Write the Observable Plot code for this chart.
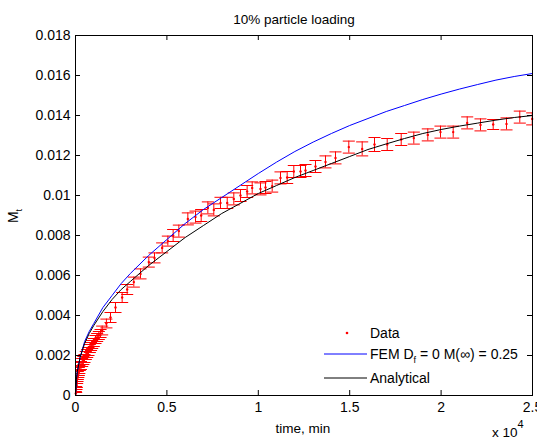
<!DOCTYPE html>
<html><head><meta charset="utf-8">
<script src="https://cdn.jsdelivr.net/npm/d3@7"></script>
<script src="https://cdn.jsdelivr.net/npm/@observablehq/plot@0.6"></script>
<style>
body{margin:0;background:#fff}
#wrap{position:relative;width:537px;height:439px;font-family:"Liberation Sans",Arial,sans-serif}
#wrap svg{position:absolute;left:0;top:0}
</style>
</head><body><div id="wrap"></div>
<script>
// ---- data ----
const title = "10% particle loading";
const xLabel = "time, min";
const xTicks = [0, 5000, 10000, 15000, 20000, 25000];
const xTickLabels = ["0", "0.5", "1", "1.5", "2", "2.5"];
const yTicks = [0, 0.002, 0.004, 0.006, 0.008, 0.01, 0.012, 0.014, 0.016, 0.018];
const yTickLabels = ["0", "0.002", "0.004", "0.006", "0.008", "0.01", "0.012", "0.014", "0.016", "0.018"];
const legendLabels = ["Data", "FEM D", "Analytical"];

const dataT = [18,36,55,75,91,110,128,155,182,210,237,300,365,430,492,565,638,710,785,850,912,1000,1094,1185,1277,1370,1459,1690,1915,2188,2553,2827,3190,3556,4010,4322,4741,5052,5342,5653,6145,6565,6875,7240,7567,7932,8300,8660,9026,9390,9666,10120,10394,10760,11214,11580,11942,12309,12582,13129,13676,14223,14951,15683,16357,17052,17817,18507,19272,19967,20662,21428,22155,22850,23578,24305,24983];
const dataM = [0.0001,0.0003,0.0005,0.0006,0.0008,0.0009,0.001,0.0011,0.0012,0.0013,0.00145,0.0015,0.00165,0.00175,0.00185,0.002,0.0021,0.0022,0.00235,0.00245,0.00255,0.00265,0.0028,0.0029,0.003,0.0031,0.00325,0.0036,0.0039,0.0044,0.0049,0.0053,0.00567,0.00608,0.00667,0.00688,0.00738,0.00772,0.008,0.00822,0.00883,0.00892,0.009,0.00938,0.00928,0.00963,0.00963,0.00983,0.01,0.0102,0.01038,0.01033,0.0104,0.01047,0.01088,0.0109,0.0112,0.0112,0.01125,0.01145,0.01168,0.01188,0.01242,0.01233,0.01255,0.01255,0.0128,0.01287,0.01303,0.01317,0.01317,0.01363,0.01353,0.01355,0.01358,0.01392,0.01383];
const dataErr = [0.0001,0.00015,0.0002,0.0002,0.0002,0.0002,0.0002,0.0002,0.0002,0.0002,0.0002,0.0002,0.0002,0.0002,0.0002,0.0002,0.0002,0.0002,0.0002,0.0002,0.0002,0.0002,0.0002,0.0002,0.0002,0.0002,0.00022,0.00022,0.00025,0.00025,0.00025,0.00025,0.00025,0.00025,0.00025,0.00025,0.00025,0.00025,0.0003,0.0003,0.0003,0.0003,0.0003,0.0003,0.0003,0.00028,0.00028,0.0003,0.0003,0.0003,0.0003,0.0003,0.0003,0.0003,0.0003,0.0003,0.0003,0.0003,0.0003,0.0003,0.0003,0.0003,0.0003,0.00035,0.00035,0.0003,0.0003,0.0003,0.0003,0.0003,0.0003,0.0003,0.0003,0.00025,0.0003,0.0003,0.0003,0.0003];

const curveT = [0,50,100,250,500,750,1000,1500,2000,2500,3000,4000,5000,6000,7000,8000,9000,10000,11000,12000,13000,14000,15000,16000,17000,18000,19000,20000,21000,22000,23000,24000,25000];
const femM   = [0,0.0008,0.0012,0.0019,0.0027,0.0032,0.0036,0.0044,0.0050,0.0056,0.0061,0.0070,0.0078,0.0086,0.0093,0.0099,0.0105,0.0111,0.01167,0.0122,0.01267,0.0131,0.0135,0.01385,0.0142,0.0145,0.0148,0.01507,0.01532,0.01555,0.01577,0.01595,0.0161];
const anaM   = [0,0.0008,0.0012,0.0019,0.0026,0.0031,0.0035,0.0042,0.0048,0.0053,0.0057,0.0065,0.0072,0.0079,0.0085,0.0091,0.0096,0.0101,0.0105,0.0109,0.01125,0.0116,0.01195,0.0123,0.01258,0.01285,0.0131,0.0133,0.01347,0.01362,0.01377,0.0139,0.0140];

// ---- build tables ----
const data = dataT.map((t, i) => ({t, m: dataM[i], e: dataErr[i]}));
const fem = curveT.map((t, i) => ({t, m: femM[i]}));
const ana = curveT.map((t, i) => ({t, m: anaM[i]}));

const W = 537, H = 439, mL = 75, mR = 5, mT = 35, mB = 44;
const xMax = 25000, yMax = 0.018;
const tickX = 5 / (W - mL - mR) * xMax;   // 5px in x units
const tickY = 5 / (H - mT - mB) * yMax;   // 5px in y units
const cap = 330;
const font = "Liberation Sans, Arial, sans-serif";

const plot = Plot.plot({
  width: W, height: H,
  marginLeft: mL, marginRight: mR, marginTop: mT, marginBottom: mB,
  style: {fontFamily: font, fontSize: "14px", background: "white", color: "black"},
  x: {domain: [0, xMax]},
  y: {domain: [0, yMax]},
  marks: [
    // error bars
    Plot.ruleX(data, {x: "t", y1: d => d.m - d.e, y2: d => d.m + d.e, stroke: "red", strokeWidth: 1, clip: true}),
    Plot.link(data, {x1: d => d.t - cap, x2: d => d.t + cap, y1: d => d.m - d.e, y2: d => d.m - d.e, stroke: "red", strokeWidth: 1, clip: true}),
    Plot.link(data, {x1: d => d.t - cap, x2: d => d.t + cap, y1: d => d.m + d.e, y2: d => d.m + d.e, stroke: "red", strokeWidth: 1, clip: true}),
    Plot.dot(data, {x: "t", y: "m", r: 1.2, fill: "red", stroke: null}),
    Plot.line(fem, {x: "t", y: "m", stroke: "blue", strokeWidth: 1}),
    Plot.line(ana, {x: "t", y: "m", stroke: "black", strokeWidth: 1}),
    // frame and inward ticks
    Plot.frame({stroke: "black"}),
    Plot.ruleX(xTicks, {x: d => d, y1: 0, y2: tickY, stroke: "black"}),
    Plot.ruleX(xTicks, {x: d => d, y1: yMax - tickY, y2: yMax, stroke: "black"}),
    Plot.ruleY(yTicks, {y: d => d, x1: 0, x2: tickX, stroke: "black"}),
    Plot.ruleY(yTicks, {y: d => d, x1: xMax - tickX, x2: xMax, stroke: "black"}),
    Plot.axisX(xTicks, {tickSize: 0, tickPadding: 7, label: null, fontSize: 14, fill: "black",
      tickFormat: d => xTickLabels[xTicks.indexOf(d)]}),
    Plot.axisY(yTicks, {tickSize: 0, tickPadding: 5, label: null, fontSize: 14, fill: "black",
      tickFormat: d => yTickLabels[yTicks.indexOf(d)]})
  ]
});

const wrap = document.getElementById("wrap");
wrap.appendChild(plot);

// overlay: title, axis labels, exponent, legend
const ns = "http://www.w3.org/2000/svg";
const ov = document.createElementNS(ns, "svg");
ov.setAttribute("width", W); ov.setAttribute("height", H);
ov.setAttribute("font-family", font); ov.setAttribute("font-size", "14");
ov.innerHTML = `
  <text x="294" y="24" text-anchor="middle" font-size="13.5">${title}</text>
  <text x="303" y="433" text-anchor="middle" font-size="13.5">${xLabel}</text>
  <text x="492" y="437" font-size="13.5">x 10<tspan dy="-9" font-size="11">4</tspan></text>
  <text transform="translate(18,216) rotate(-90)" text-anchor="middle">M<tspan dy="4" font-size="9">t</tspan></text>
  <circle cx="347" cy="333" r="1.3" fill="red"/>
  <text x="370" y="338">${legendLabels[0]}</text>
  <line x1="324" x2="367" y1="354" y2="354" stroke="blue" stroke-width="1"/>
  <text x="370" y="359">${legendLabels[1]}<tspan dy="4" font-size="9">f</tspan><tspan dy="-4"> = 0 M(∞) = 0.25</tspan></text>
  <line x1="324" x2="367" y1="378" y2="378" stroke="black" stroke-width="1"/>
  <text x="370" y="383">${legendLabels[2]}</text>
`;
wrap.appendChild(ov);
</script>
</body></html>
